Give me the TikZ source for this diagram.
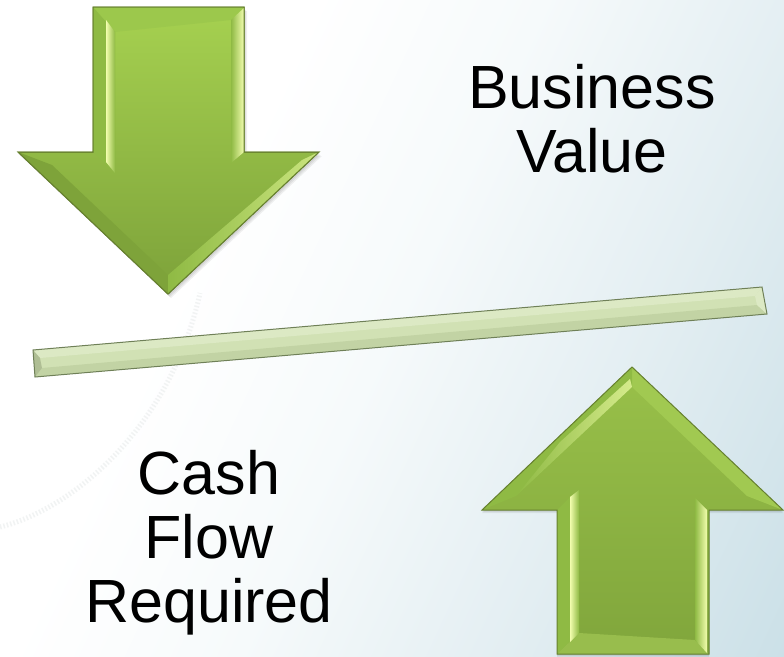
\documentclass[tikz,border=0pt]{standalone}
\usepackage{fontspec}
\setmainfont{Liberation Sans}
\usetikzlibrary{shadings}
\definecolor{bgnear}{HTML}{F6FAFB}
\definecolor{bgmid}{HTML}{E3EEF2}
\definecolor{bgend}{HTML}{BFD9E2}
\pgfdeclarehorizontalshading{bgshade}{100bp}{color(0bp)=(white); color(36bp)=(white); color(50bp)=(bgnear); color(66bp)=(bgmid); color(92bp)=(bgend); color(100bp)=(bgend)}
\definecolor{edgegreen}{HTML}{66802F}
\definecolor{lightstrip}{HTML}{F2FDAE}
\definecolor{greenTop}{HTML}{A6D150}
\definecolor{greenBot}{HTML}{7DA23A}
\definecolor{bevelA}{HTML}{8FBA44}
\definecolor{bevelB}{HTML}{7EA33A}
\definecolor{bevelC}{HTML}{A9D057}
\definecolor{bevelTop}{HTML}{9CC84C}
\definecolor{bevelLow}{HTML}{98BD4D}
\definecolor{barfill}{HTML}{D1E1B4}
\definecolor{bardark}{HTML}{C2D3A4}
\definecolor{barlite}{HTML}{DCE9C4}
\definecolor{baredge}{HTML}{6F8058}
\definecolor{speck}{HTML}{F1F3F3}
\tikzset{
  lbl/.style={inner sep=0pt,align=center,text=black,font=\fontsize{61}{64}\selectfont},
  outline/.style={draw=edgegreen,line width=1pt,line join=miter},
  strip/.style={left color=lightstrip,middle color=lightstrip,right color=bevelA,draw=none},
  stripr/.style={left color=bevelA,middle color=lightstrip,right color=lightstrip,draw=none},
  shadowlayer/.style={fill=black,fill opacity=0.06,draw=none}
}
\begin{document}
\begin{tikzpicture}[x=1pt,y=-1pt]
\useasboundingbox (0,0) rectangle (784,656);
\shade[shading=bgshade,shading angle=-25] (0,0) rectangle (784,656);
% faint speckled arc
\draw[speck,line width=5pt,dash pattern=on 1.5pt off 2pt]
  (0,527) .. controls (70,510) and (170,430) .. (200,293);
% --- down arrow ---
\foreach \d in {1,2,3}{
  \fill[shadowlayer,shift={(\d,\d+1)}] (93,7)--(244,7)--(244,152)--(319,152)--(168,294)--(18,152)--(93,152)--cycle;
}
\shade[outline,top color=greenTop,bottom color=greenBot]
  (93,7)--(244,7)--(244,152)--(319,152)--(168,294)--(18,152)--(93,152)--cycle;
\fill[bevelTop] (93,7)--(244,7)--(231,20)--(115,32)--cycle;
\fill[bevelA] (93,7)--(115,32)--(115,173)--(93,152)--cycle;
\shade[strip] (106,20)--(115,32)--(115,173)--(106,162)--cycle;
\shade[stripr] (244,8)--(231,20)--(231,163)--(244,152)--cycle;
\fill[bevelB] (18,152)--(52,165)--(168,275)--(168,294)--cycle;
\shade[left color=bevelA,right color=lightstrip!45!bevelC,draw=none] (319,152)--(302,160)--(168,275)--(168,294)--cycle;
\draw[outline] (93,7)--(244,7)--(244,152)--(319,152)--(168,294)--(18,152)--(93,152)--cycle;
% --- bar ---
\fill[barfill] (33,350)--(762,287)--(767,314)--(35,377)--cycle;
\fill[barlite] (33,350)--(762,287)--(755,296)--(40,358)--cycle;
\fill[bardark] (35,377)--(767,314)--(757,305)--(42,368)--cycle;
\fill[bardark!90!black] (33,350)--(40,358)--(42,368)--(35,377)--cycle;
\fill[barlite] (762,287)--(755,296)--(757,305)--(767,314)--cycle;
\draw[baredge,line width=1pt] (33,350)--(762,287)--(767,314)--(35,377)--cycle;
% --- up arrow ---
\foreach \d in {1,2,3}{
  \fill[shadowlayer,shift={(0,\d)}] (632,367)--(783,510)--(709,510)--(709,654)--(557,654)--(557,510)--(482,510)--cycle;
}
\shade[top color=greenTop!92!black,bottom color=greenBot!92!greenTop]
  (632,367)--(783,510)--(709,510)--(709,654)--(557,654)--(557,510)--(482,510)--cycle;
\fill[bevelC!70!bevelA] (632,367)--(783,510)--(747,496)--(632,387)--cycle;
\fill[bevelA] (482,510)--(516,496)--(632,387)--(632,367)--cycle;
\shade[left color=bevelA,right color=lightstrip!60!bevelC,draw=none] (516,496)--(632,387)--(630,379)--(560,442)--cycle;
\fill[bevelA] (557,510)--(570,497)--(579,490)--(579,633)--(557,654)--cycle;
\fill[bevelLow] (557,654)--(579,633)--(695,640)--(709,654)--cycle;
\shade[strip] (570,497)--(579,490)--(579,633)--(570,642)--cycle;
\shade[stripr] (695,498)--(707,510)--(707,653)--(695,640)--cycle;
\draw[outline] (632,367)--(783,510)--(709,510)--(709,654)--(557,654)--(557,510)--(482,510)--cycle;
% --- labels ---
\node[lbl] (bv) at (592,119) {Business\\Value};
\node[lbl] (cf) at (209,543) {Cash\\Flow\\Required};
\end{tikzpicture}
\end{document}
